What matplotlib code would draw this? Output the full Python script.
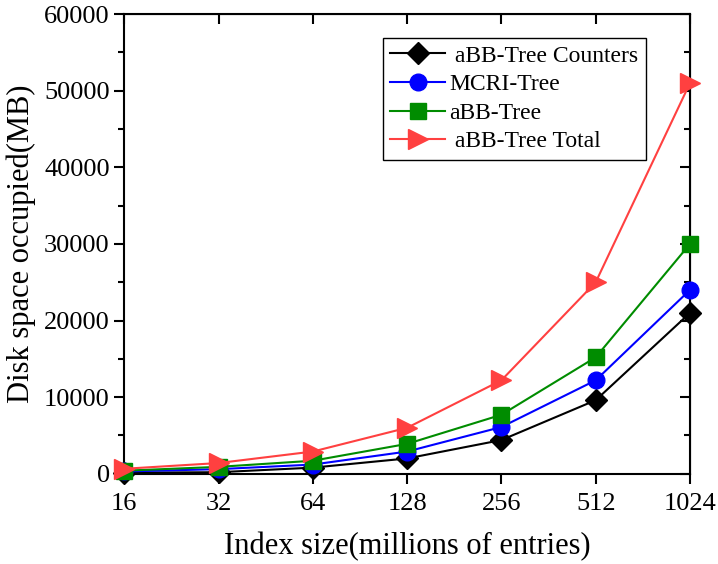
import matplotlib.pyplot as plt
import matplotlib.ticker as mticker

plt.rcParams['font.family'] = ['Liberation Serif', 'DejaVu Serif']

sizes = ['16', '32', '64', '128', '256', '512', '1024']
counters = [150, 200, 800, 2000, 4400, 9600, 21000]
mcri = [300, 600, 1200, 2900, 6100, 12200, 24000]
abb = [400, 900, 1700, 3900, 7700, 15200, 30000]
total = [650, 1400, 2900, 6000, 12200, 25000, 51000]

x = list(range(len(sizes)))

fig = plt.figure(figsize=(7.18, 5.64), dpi=100)
ax = fig.add_axes([0.173, 0.160, 0.788, 0.815])

ax.plot(x, counters, color='black', marker='D', ms=11, lw=1.5, clip_on=False,
        label=' aBB-Tree Counters', zorder=5)
ax.plot(x, mcri, color='#0000ff', marker='o', ms=12, lw=1.5, clip_on=False,
        label='MCRI-Tree', zorder=5)
ax.plot(x, abb, color='#008c00', marker='s', ms=11, lw=1.5, clip_on=False,
        label='aBB-Tree', zorder=5)
ax.plot(x, total, color='#ff4040', marker='>', ms=14, lw=1.5, clip_on=False,
        label=' aBB-Tree Total', zorder=5)

ax.set_xlim(0, 6)
ax.set_ylim(0, 60000)
ax.set_xticks(x)
ax.set_xticklabels(sizes)
ax.yaxis.set_major_locator(mticker.MultipleLocator(10000))
ax.yaxis.set_minor_locator(mticker.MultipleLocator(5000))

for s in ax.spines.values():
    s.set_linewidth(1.5)
ax.tick_params(axis='both', which='both', labelsize=19, width=1.5)
ax.tick_params(which='major', length=7)
ax.tick_params(which='minor', length=4)
ax.tick_params(axis='x', which='minor', bottom=False)
ax.tick_params(axis='x', pad=7)

# mirrored ticks on top and right, pointing inward
ax_top = ax.secondary_xaxis('top')
ax_top.set_xticks(x)
ax_top.tick_params(direction='in', length=7, width=1.5, labeltop=False)
ax_right = ax.secondary_yaxis('right')
ax_right.yaxis.set_major_locator(mticker.MultipleLocator(10000))
ax_right.yaxis.set_minor_locator(mticker.MultipleLocator(5000))
ax_right.tick_params(which='both', direction='in', width=1.5, labelright=False)
ax_right.tick_params(which='major', length=7)
ax_right.tick_params(which='minor', length=4)

ax.set_xlabel('Index size(millions of entries)', fontsize=22, labelpad=12)
ax.set_ylabel('Disk space occupied(MB)', fontsize=22, labelpad=6)

leg = ax.legend(loc='upper left', bbox_to_anchor=(0.458, 0.948), borderaxespad=0,
                fontsize=17, fancybox=False, edgecolor='black', framealpha=1,
                handlelength=2.3, handletextpad=0.2, labelspacing=0.3,
                borderpad=0.3)
leg.get_frame().set_linewidth(1.0)

fig.savefig('out.png', dpi=100)
